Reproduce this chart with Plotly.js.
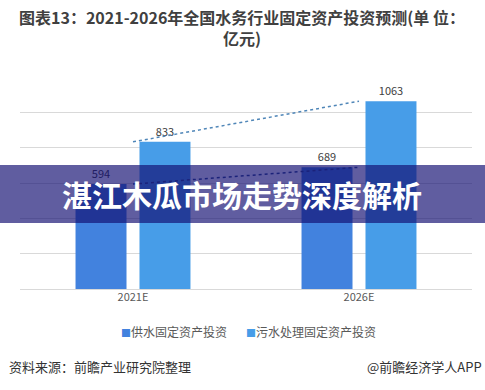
<!DOCTYPE html>
<html>
<head>
<meta charset="utf-8">
<script src="https://cdn.plot.ly/plotly-3.0.1.min.js"></script>
<style>html,body{margin:0;padding:0;background:#fff;}#chart{width:485px;height:390px;}</style>
</head>
<body>
<div id="chart"></div>
<script>
const categories = ["2021E", "2026E"];
const seriesNames = ["供水固定资产投资", "污水处理固定资产投资"];
const supplyValues = [594, 689];
const sewageValues = [833, 1063];
const yTicks = [0, 200, 400, 600, 800, 1000, 1200];
const seriesColors = ['#4282DE', '#479DE8'];
const titleLines = ['图表13：2021-2026年全国水务行业固定资产投资预测(单 位：', '亿元)'];

const FONT = '"Noto Sans CJK SC", "Noto Sans", sans-serif';
const L = 20, R = 13, T = 77, B = 101;
const W = 485, H = 390;
const pw = W - L - R, ph = H - T - B;
const px2x = x => (x - L) / pw;
const px2y = y => (H - B - y) / ph;

const traces = [
  {
    type: 'bar', name: seriesNames[0], x: categories, y: supplyValues,
    text: supplyValues.map(String), textposition: 'outside', cliponaxis: false,
    textfont: {size: 11, color: '#404040', family: FONT},
    marker: {color: seriesColors[0]}, showlegend: false
  },
  {
    type: 'bar', name: seriesNames[1], x: categories, y: sewageValues,
    text: sewageValues.map(String), textposition: 'outside', cliponaxis: false,
    textfont: {size: 11, color: '#404040', family: FONT},
    marker: {color: seriesColors[1]}, showlegend: false
  },
  {
    type: 'scatter', mode: 'lines', x: categories, y: supplyValues, showlegend: false,
    line: {color: '#2E4D8C', width: 1.5, dash: 'dot'}, hoverinfo: 'skip'
  },
  {
    type: 'scatter', mode: 'lines', x: categories, y: sewageValues, showlegend: false,
    line: {color: '#4F86B8', width: 1.5, dash: 'dot'}, hoverinfo: 'skip'
  }
];

function legendText(i) {
  return '<span style="color:' + seriesColors[i] + ';font-size:10px">■</span>' + seriesNames[i];
}

const layout = {
  width: W, height: H,
  margin: {l: L, r: R, t: T, b: B, pad: 0},
  paper_bgcolor: '#ffffff', plot_bgcolor: '#ffffff',
  font: {family: FONT, color: '#595959', size: 11},
  barmode: 'group', bargap: 0.434, bargroupgap: 0.203,
  xaxis: {
    type: 'category', showgrid: false, zeroline: false, showline: false,
    ticks: '', tickfont: {size: 11, color: '#595959', family: FONT}
  },
  yaxis: {
    range: [0, 1200], tickvals: yTicks, showticklabels: false,
    showgrid: true, gridcolor: '#D9D9D9', gridwidth: 1, zeroline: true,
    zerolinecolor: '#D9D9D9', zerolinewidth: 1, showline: false, fixedrange: true
  },
  showlegend: false,
  shapes: [
    {
      type: 'rect', xref: 'paper', yref: 'paper', layer: 'above',
      x0: px2x(0), x1: px2x(W), y0: px2y(223), y1: px2y(165),
      fillcolor: 'rgba(18,14,114,0.67)', line: {width: 0}
    }
  ],
  annotations: [
    {
      xref: 'paper', yref: 'paper', x: px2x(242), y: px2y(17),
      xanchor: 'center', yanchor: 'middle', showarrow: false,
      text: '<b>' + titleLines[0] + '</b>',
      font: {size: 16, color: '#404040', family: FONT}
    },
    {
      xref: 'paper', yref: 'paper', x: px2x(242), y: px2y(38),
      xanchor: 'center', yanchor: 'middle', showarrow: false,
      text: '<b>' + titleLines[1] + '</b>',
      font: {size: 16, color: '#404040', family: FONT}
    },
    {
      xref: 'paper', yref: 'paper', x: px2x(174), y: px2y(331),
      xanchor: 'center', yanchor: 'middle', showarrow: false,
      text: legendText(0),
      font: {size: 12, color: '#595959', family: FONT}
    },
    {
      xref: 'paper', yref: 'paper', x: px2x(311), y: px2y(331),
      xanchor: 'center', yanchor: 'middle', showarrow: false,
      text: legendText(1),
      font: {size: 12, color: '#595959', family: FONT}
    },
    {
      xref: 'paper', yref: 'paper', x: px2x(242), y: px2y(194),
      xanchor: 'center', yanchor: 'middle', showarrow: false,
      text: '<b>湛江木瓜市场走势深度解析</b>',
      font: {size: 30, color: '#ffffff', family: FONT}
    },
    {
      xref: 'paper', yref: 'paper', x: px2x(7), y: px2y(366),
      xanchor: 'left', yanchor: 'middle', showarrow: false,
      text: '资料来源：前瞻产业研究院整理',
      font: {size: 13, color: '#333333', family: FONT}
    },
    {
      xref: 'paper', yref: 'paper', x: px2x(484), y: px2y(366),
      xanchor: 'right', yanchor: 'middle', showarrow: false,
      text: '@前瞻经济学人APP',
      font: {size: 13, color: '#333333', family: FONT}
    }
  ]
};

Plotly.newPlot('chart', traces, layout, {staticPlot: true, displayModeBar: false});
</script>
</body>
</html>
